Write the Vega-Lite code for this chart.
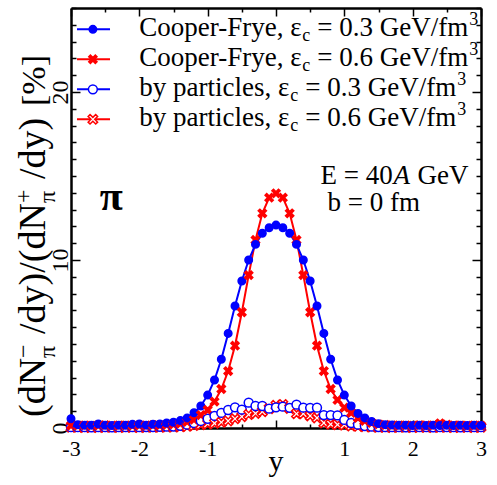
{
  "$schema": "https://vega.github.io/schema/vega-lite/v6.json",
  "width": 410,
  "height": 420,
  "autosize": {"type": "none"},
  "padding": {"left": 71, "top": 8, "right": 16, "bottom": 57},
  "background": "white",
  "config": {
    "view": {"stroke": null},
    "axis": {"grid": false, "domainColor": "black", "tickColor": "black", "labelColor": "black", "labelFont": "Liberation Serif"},
    "text": {"color": "black", "font": "Liberation Serif"}
  },
  "datasets": {
    "curves": [
      {"rap": -3.0, "cf3": 0.55, "cf6": 0.15, "bp3": 0.05, "bp6": 0.05},
      {"rap": -2.9, "cf3": 0.20, "cf6": 0.14, "bp3": 0.05, "bp6": 0.05},
      {"rap": -2.8, "cf3": 0.16, "cf6": 0.16, "bp3": 0.05, "bp6": 0.04},
      {"rap": -2.7, "cf3": 0.17, "cf6": 0.14, "bp3": 0.04, "bp6": 0.05},
      {"rap": -2.6, "cf3": 0.24, "cf6": 0.15, "bp3": 0.05, "bp6": 0.04},
      {"rap": -2.5, "cf3": 0.16, "cf6": 0.17, "bp3": 0.05, "bp6": 0.05},
      {"rap": -2.4, "cf3": 0.15, "cf6": 0.14, "bp3": 0.04, "bp6": 0.05},
      {"rap": -2.3, "cf3": 0.17, "cf6": 0.15, "bp3": 0.05, "bp6": 0.04},
      {"rap": -2.2, "cf3": 0.16, "cf6": 0.16, "bp3": 0.05, "bp6": 0.05},
      {"rap": -2.1, "cf3": 0.22, "cf6": 0.14, "bp3": 0.05, "bp6": 0.05},
      {"rap": -2.0, "cf3": 0.24, "cf6": 0.16, "bp3": 0.05, "bp6": 0.04},
      {"rap": -1.9, "cf3": 0.17, "cf6": 0.15, "bp3": 0.06, "bp6": 0.05},
      {"rap": -1.8, "cf3": 0.22, "cf6": 0.17, "bp3": 0.06, "bp6": 0.05},
      {"rap": -1.7, "cf3": 0.24, "cf6": 0.16, "bp3": 0.07, "bp6": 0.05},
      {"rap": -1.6, "cf3": 0.30, "cf6": 0.19, "bp3": 0.08, "bp6": 0.06},
      {"rap": -1.5, "cf3": 0.34, "cf6": 0.22, "bp3": 0.09, "bp6": 0.07},
      {"rap": -1.4, "cf3": 0.44, "cf6": 0.27, "bp3": 0.13, "bp6": 0.08},
      {"rap": -1.3, "cf3": 0.60, "cf6": 0.36, "bp3": 0.20, "bp6": 0.10},
      {"rap": -1.2, "cf3": 0.91, "cf6": 0.50, "bp3": 0.30, "bp6": 0.15},
      {"rap": -1.1, "cf3": 1.31, "cf6": 0.77, "bp3": 0.42, "bp6": 0.20},
      {"rap": -1.0, "cf3": 1.96, "cf6": 1.07, "bp3": 0.55, "bp6": 0.24},
      {"rap": -0.9, "cf3": 2.86, "cf6": 1.57, "bp3": 0.72, "bp6": 0.28},
      {"rap": -0.8, "cf3": 4.09, "cf6": 2.32, "bp3": 0.90, "bp6": 0.34},
      {"rap": -0.7, "cf3": 5.63, "cf6": 3.39, "bp3": 1.07, "bp6": 0.42},
      {"rap": -0.6, "cf3": 7.26, "cf6": 4.90, "bp3": 1.23, "bp6": 0.55},
      {"rap": -0.5, "cf3": 8.75, "cf6": 6.89, "bp3": 1.09, "bp6": 0.68},
      {"rap": -0.4, "cf3": 10.00, "cf6": 9.10, "bp3": 1.51, "bp6": 0.80},
      {"rap": -0.3, "cf3": 10.93, "cf6": 11.19, "bp3": 1.31, "bp6": 0.87},
      {"rap": -0.2, "cf3": 11.59, "cf6": 12.78, "bp3": 1.31, "bp6": 0.97},
      {"rap": -0.1, "cf3": 11.92, "cf6": 13.71, "bp3": 1.15, "bp6": 1.15},
      {"rap": 0.0, "cf3": 12.08, "cf6": 13.97, "bp3": 1.23, "bp6": 1.35},
      {"rap": 0.1, "cf3": 11.92, "cf6": 13.71, "bp3": 1.27, "bp6": 1.40},
      {"rap": 0.2, "cf3": 11.59, "cf6": 12.78, "bp3": 1.20, "bp6": 1.17},
      {"rap": 0.3, "cf3": 10.93, "cf6": 11.19, "bp3": 1.39, "bp6": 0.85},
      {"rap": 0.4, "cf3": 10.00, "cf6": 9.10, "bp3": 1.21, "bp6": 0.85},
      {"rap": 0.5, "cf3": 8.75, "cf6": 6.89, "bp3": 1.20, "bp6": 0.72},
      {"rap": 0.6, "cf3": 7.26, "cf6": 4.90, "bp3": 1.21, "bp6": 0.60},
      {"rap": 0.7, "cf3": 5.63, "cf6": 3.39, "bp3": 0.77, "bp6": 0.30},
      {"rap": 0.8, "cf3": 4.09, "cf6": 2.32, "bp3": 0.77, "bp6": 0.22},
      {"rap": 0.9, "cf3": 2.86, "cf6": 1.67, "bp3": 0.75, "bp6": 0.20},
      {"rap": 1.0, "cf3": 1.96, "cf6": 1.21, "bp3": 0.48, "bp6": 0.18},
      {"rap": 1.1, "cf3": 1.31, "cf6": 0.90, "bp3": 0.30, "bp6": 0.12},
      {"rap": 1.2, "cf3": 0.87, "cf6": 0.60, "bp3": 0.20, "bp6": 0.10},
      {"rap": 1.3, "cf3": 0.60, "cf6": 0.42, "bp3": 0.12, "bp6": 0.08},
      {"rap": 1.4, "cf3": 0.38, "cf6": 0.30, "bp3": 0.08, "bp6": 0.06},
      {"rap": 1.5, "cf3": 0.26, "cf6": 0.22, "bp3": 0.06, "bp6": 0.05},
      {"rap": 1.6, "cf3": 0.20, "cf6": 0.18, "bp3": 0.05, "bp6": 0.05},
      {"rap": 1.7, "cf3": 0.18, "cf6": 0.16, "bp3": 0.05, "bp6": 0.04},
      {"rap": 1.8, "cf3": 0.16, "cf6": 0.15, "bp3": 0.05, "bp6": 0.05},
      {"rap": 1.9, "cf3": 0.17, "cf6": 0.16, "bp3": 0.04, "bp6": 0.05},
      {"rap": 2.0, "cf3": 0.15, "cf6": 0.14, "bp3": 0.05, "bp6": 0.04},
      {"rap": 2.1, "cf3": 0.16, "cf6": 0.17, "bp3": 0.05, "bp6": 0.05},
      {"rap": 2.2, "cf3": 0.15, "cf6": 0.15, "bp3": 0.05, "bp6": 0.05},
      {"rap": 2.3, "cf3": 0.17, "cf6": 0.16, "bp3": 0.04, "bp6": 0.04},
      {"rap": 2.4, "cf3": 0.15, "cf6": 0.28, "bp3": 0.05, "bp6": 0.05},
      {"rap": 2.5, "cf3": 0.16, "cf6": 0.20, "bp3": 0.05, "bp6": 0.05},
      {"rap": 2.6, "cf3": 0.15, "cf6": 0.15, "bp3": 0.05, "bp6": 0.04},
      {"rap": 2.7, "cf3": 0.16, "cf6": 0.16, "bp3": 0.04, "bp6": 0.05},
      {"rap": 2.8, "cf3": 0.15, "cf6": 0.14, "bp3": 0.05, "bp6": 0.05},
      {"rap": 2.9, "cf3": 0.16, "cf6": 0.15, "bp3": 0.05, "bp6": 0.04},
      {"rap": 3.0, "cf3": 0.15, "cf6": 0.14, "bp3": 0.05, "bp6": 0.05}
    ],
    "legend": [
      {"key": "cf3", "name": "Cooper-Frye, ε", "sub": "c", "rest": "= 0.3 GeV/fm", "sup": "3"},
      {"key": "cf6", "name": "Cooper-Frye, ε", "sub": "c", "rest": "= 0.6 GeV/fm", "sup": "3"},
      {"key": "bp3", "name": "by particles, ε", "sub": "c", "rest": "= 0.3 GeV/fm", "sup": "3"},
      {"key": "bp6", "name": "by particles, ε", "sub": "c", "rest": "= 0.6 GeV/fm", "sup": "3"}
    ],
    "notes": [
      {"id": "E", "text": "E = 40"},
      {"id": "A", "text": "A"},
      {"id": "GeV", "text": "GeV"},
      {"id": "b", "text": "b = 0 fm"},
      {"id": "pi", "text": "π"},
      {"id": "xt", "text": "y"},
      {"id": "t1", "text": "(dN"},
      {"id": "t2", "text": "−"},
      {"id": "t3", "text": "π"},
      {"id": "t4", "text": "/dy)/(dN"},
      {"id": "t5", "text": "+"},
      {"id": "t6", "text": "π"},
      {"id": "t7", "text": "/dy)"},
      {"id": "t8", "text": "[%]"}
    ]
  },
  "resolve": {"axis": {"x": "independent", "y": "independent"}},
  "layer": [
    {
      "data": {"name": "curves"},
      "transform": [{"fold": ["bp6", "bp3", "cf6", "cf3"], "as": ["key", "val"]}],
      "mark": {"type": "line", "strokeWidth": 2},
      "encoding": {
        "x": {"field": "rap", "type": "quantitative", "scale": {"domain": [-3, 3], "nice": false, "zero": false},
          "axis": {"orient": "bottom", "title": null, "values": [-3, -2.5, -2, -1.5, -1, -0.5, 0, 0.5, 1, 1.5, 2, 2.5, 3],
            "domainWidth": 2.5, "tickWidth": 1.5,
            "tickSize": {"condition": {"test": "datum.value % 1 === 0", "value": -8}, "value": -4},
            "labelExpr": "datum.value % 1 === 0 && datum.value !== 0 ? '' + datum.value : ''",
            "labelFont": "Liberation Serif", "labelFontSize": 22, "labelPadding": 18, "labelFlush": false, "labelOverlap": false, "labelBound": false}},
        "y": {"field": "val", "type": "quantitative", "scale": {"domain": [0, 25], "nice": false, "zero": false},
          "axis": {"orient": "left", "title": null, "values": [0, 1, 2, 3, 4, 5, 6, 7, 8, 9, 10, 11, 12, 13, 14, 15, 16, 17, 18, 19, 20, 21, 22, 23, 24, 25],
            "domainWidth": 2.5, "tickWidth": 1.5,
            "tickSize": {"condition": {"test": "datum.value % 10 === 0", "value": -9}, "value": -5},
            "labelExpr": "datum.value % 10 === 0 ? '' + datum.value : ''",
            "labelAngle": 270, "labelAlign": "center", "labelBaseline": "alphabetic",
            "labelFont": "Liberation Serif", "labelFontSize": 24, "labelPadding": 13, "labelFlush": false, "labelOverlap": false, "labelBound": false}},
        "color": {"field": "key", "type": "nominal", "scale": {"domain": ["cf3", "cf6", "bp3", "bp6"], "range": ["#0000ff", "#ff0000", "#0000ff", "#ff0000"]}, "legend": null}
      }
    },
    {
      "data": {"name": "curves"},
      "transform": [{"fold": ["bp6", "bp3", "cf6", "cf3"], "as": ["key", "val"]}],
      "mark": {"type": "point", "opacity": 1, "strokeWidth": 1.5},
      "encoding": {
        "x": {"field": "rap", "type": "quantitative",
          "axis": {"orient": "top", "title": null, "labels": false, "values": [-3, -2.5, -2, -1.5, -1, -0.5, 0, 0.5, 1, 1.5, 2, 2.5, 3],
            "domainWidth": 2.5, "tickWidth": 1.5,
            "tickSize": {"condition": {"test": "datum.value % 1 === 0", "value": -8}, "value": -4}}},
        "y": {"field": "val", "type": "quantitative",
          "axis": {"orient": "right", "title": null, "labels": false, "values": [0, 1, 2, 3, 4, 5, 6, 7, 8, 9, 10, 11, 12, 13, 14, 15, 16, 17, 18, 19, 20, 21, 22, 23, 24, 25],
            "domainWidth": 2.5, "tickWidth": 1.5,
            "tickSize": {"condition": {"test": "datum.value % 10 === 0", "value": -9}, "value": -5}}},
        "shape": {"field": "key", "type": "nominal", "scale": {"domain": ["cf3", "cf6", "bp3", "bp6"], "range": ["circle", "M-1,-0.6L-0.6,-1L0,-0.4L0.6,-1L1,-0.6L0.4,0L1,0.6L0.6,1L0,0.4L-0.6,1L-1,0.6L-0.4,0Z", "circle", "M-1,-0.6L-0.6,-1L0,-0.4L0.6,-1L1,-0.6L0.4,0L1,0.6L0.6,1L0,0.4L-0.6,1L-1,0.6L-0.4,0Z"]}, "legend": null},
        "fill": {"field": "key", "type": "nominal", "scale": {"domain": ["cf3", "cf6", "bp3", "bp6"], "range": ["#0000ff", "#ff0000", "#ffffff", "#ffffff"]}, "legend": null},
        "stroke": {"field": "key", "type": "nominal", "scale": {"domain": ["cf3", "cf6", "bp3", "bp6"], "range": ["#0000ff", "#ff0000", "#0000ff", "#ff0000"]}, "legend": null},
        "size": {"field": "key", "type": "ordinal", "scale": {"domain": ["cf3", "cf6", "bp3", "bp6"], "range": [56, 90, 30, 64]}, "legend": null}
      }
    },
    {
      "data": {"name": "legend"},
      "transform": [{"filter": "datum.key === 'cf3'"}],
      "encoding": {"y": {"datum": 23.73, "type": "quantitative", "axis": null}},
      "layer": [
        {"mark": {"type": "rule", "stroke": "#0000ff", "strokeWidth": 2}, "encoding": {"x": {"datum": -2.912, "type": "quantitative", "axis": null}, "x2": {"datum": -2.429}}},
        {"mark": {"type": "point", "opacity": 1, "strokeWidth": 1.5}, "encoding": {"x": {"datum": -2.68, "type": "quantitative", "axis": null},
          "shape": {"field": "key", "type": "nominal", "legend": null}, "fill": {"field": "key", "type": "nominal", "legend": null},
          "stroke": {"field": "key", "type": "nominal", "legend": null}, "size": {"field": "key", "type": "ordinal", "legend": null}}},
        {"mark": {"type": "text", "align": "left", "baseline": "alphabetic", "fontSize": 27, "dy": 7}, "encoding": {"x": {"datum": -2.0, "type": "quantitative", "axis": null}, "text": {"field": "name"}}},
        {"mark": {"type": "text", "align": "left", "baseline": "alphabetic", "fontSize": 18, "dx": 163, "dy": 12}, "encoding": {"x": {"datum": -2.0, "type": "quantitative", "axis": null}, "text": {"field": "sub"}}},
        {"mark": {"type": "text", "align": "left", "baseline": "alphabetic", "fontSize": 27, "dx": 178, "dy": 7}, "encoding": {"x": {"datum": -2.0, "type": "quantitative", "axis": null}, "text": {"field": "rest"}}},
        {"mark": {"type": "text", "align": "left", "baseline": "alphabetic", "fontSize": 18, "dx": 330, "dy": -4}, "encoding": {"x": {"datum": -2.0, "type": "quantitative", "axis": null}, "text": {"field": "sup"}}}
      ]
    },
    {
      "data": {"name": "legend"},
      "transform": [{"filter": "datum.key === 'cf6'"}],
      "encoding": {"y": {"datum": 21.95, "type": "quantitative", "axis": null}},
      "layer": [
        {"mark": {"type": "rule", "stroke": "#ff0000", "strokeWidth": 2}, "encoding": {"x": {"datum": -2.912, "type": "quantitative", "axis": null}, "x2": {"datum": -2.429}}},
        {"mark": {"type": "point", "opacity": 1, "strokeWidth": 1.5}, "encoding": {"x": {"datum": -2.68, "type": "quantitative", "axis": null},
          "shape": {"field": "key", "type": "nominal", "legend": null}, "fill": {"field": "key", "type": "nominal", "legend": null},
          "stroke": {"field": "key", "type": "nominal", "legend": null}, "size": {"field": "key", "type": "ordinal", "legend": null}}},
        {"mark": {"type": "text", "align": "left", "baseline": "alphabetic", "fontSize": 27, "dy": 7}, "encoding": {"x": {"datum": -2.0, "type": "quantitative", "axis": null}, "text": {"field": "name"}}},
        {"mark": {"type": "text", "align": "left", "baseline": "alphabetic", "fontSize": 18, "dx": 163, "dy": 12}, "encoding": {"x": {"datum": -2.0, "type": "quantitative", "axis": null}, "text": {"field": "sub"}}},
        {"mark": {"type": "text", "align": "left", "baseline": "alphabetic", "fontSize": 27, "dx": 178, "dy": 7}, "encoding": {"x": {"datum": -2.0, "type": "quantitative", "axis": null}, "text": {"field": "rest"}}},
        {"mark": {"type": "text", "align": "left", "baseline": "alphabetic", "fontSize": 18, "dx": 330, "dy": -4}, "encoding": {"x": {"datum": -2.0, "type": "quantitative", "axis": null}, "text": {"field": "sup"}}}
      ]
    },
    {
      "data": {"name": "legend"},
      "transform": [{"filter": "datum.key === 'bp3'"}],
      "encoding": {"y": {"datum": 20.16, "type": "quantitative", "axis": null}},
      "layer": [
        {"mark": {"type": "rule", "stroke": "#0000ff", "strokeWidth": 2}, "encoding": {"x": {"datum": -2.912, "type": "quantitative", "axis": null}, "x2": {"datum": -2.429}}},
        {"mark": {"type": "point", "opacity": 1, "strokeWidth": 1.5}, "encoding": {"x": {"datum": -2.68, "type": "quantitative", "axis": null},
          "shape": {"field": "key", "type": "nominal", "legend": null}, "fill": {"field": "key", "type": "nominal", "legend": null},
          "stroke": {"field": "key", "type": "nominal", "legend": null}, "size": {"field": "key", "type": "ordinal", "legend": null}}},
        {"mark": {"type": "text", "align": "left", "baseline": "alphabetic", "fontSize": 27, "dy": 7}, "encoding": {"x": {"datum": -2.0, "type": "quantitative", "axis": null}, "text": {"field": "name"}}},
        {"mark": {"type": "text", "align": "left", "baseline": "alphabetic", "fontSize": 18, "dx": 151, "dy": 12}, "encoding": {"x": {"datum": -2.0, "type": "quantitative", "axis": null}, "text": {"field": "sub"}}},
        {"mark": {"type": "text", "align": "left", "baseline": "alphabetic", "fontSize": 27, "dx": 166, "dy": 7}, "encoding": {"x": {"datum": -2.0, "type": "quantitative", "axis": null}, "text": {"field": "rest"}}},
        {"mark": {"type": "text", "align": "left", "baseline": "alphabetic", "fontSize": 18, "dx": 318, "dy": -4}, "encoding": {"x": {"datum": -2.0, "type": "quantitative", "axis": null}, "text": {"field": "sup"}}}
      ]
    },
    {
      "data": {"name": "legend"},
      "transform": [{"filter": "datum.key === 'bp6'"}],
      "encoding": {"y": {"datum": 18.375, "type": "quantitative", "axis": null}},
      "layer": [
        {"mark": {"type": "rule", "stroke": "#ff0000", "strokeWidth": 2}, "encoding": {"x": {"datum": -2.912, "type": "quantitative", "axis": null}, "x2": {"datum": -2.429}}},
        {"mark": {"type": "point", "opacity": 1, "strokeWidth": 1.5}, "encoding": {"x": {"datum": -2.68, "type": "quantitative", "axis": null},
          "shape": {"field": "key", "type": "nominal", "legend": null}, "fill": {"field": "key", "type": "nominal", "legend": null},
          "stroke": {"field": "key", "type": "nominal", "legend": null}, "size": {"field": "key", "type": "ordinal", "legend": null}}},
        {"mark": {"type": "text", "align": "left", "baseline": "alphabetic", "fontSize": 27, "dy": 7}, "encoding": {"x": {"datum": -2.0, "type": "quantitative", "axis": null}, "text": {"field": "name"}}},
        {"mark": {"type": "text", "align": "left", "baseline": "alphabetic", "fontSize": 18, "dx": 151, "dy": 12}, "encoding": {"x": {"datum": -2.0, "type": "quantitative", "axis": null}, "text": {"field": "sub"}}},
        {"mark": {"type": "text", "align": "left", "baseline": "alphabetic", "fontSize": 27, "dx": 166, "dy": 7}, "encoding": {"x": {"datum": -2.0, "type": "quantitative", "axis": null}, "text": {"field": "rest"}}},
        {"mark": {"type": "text", "align": "left", "baseline": "alphabetic", "fontSize": 18, "dx": 318, "dy": -4}, "encoding": {"x": {"datum": -2.0, "type": "quantitative", "axis": null}, "text": {"field": "sup"}}}
      ]
    },
    {
      "data": {"name": "notes"},
      "layer": [
        {"transform": [{"filter": "datum.id === 'E'"}], "mark": {"type": "text", "align": "left", "baseline": "alphabetic", "fontSize": 27},
          "encoding": {"x": {"datum": 0.65, "type": "quantitative", "axis": null}, "y": {"datum": 14.5, "type": "quantitative", "axis": null}, "text": {"field": "text"}}},
        {"transform": [{"filter": "datum.id === 'A'"}], "mark": {"type": "text", "align": "left", "baseline": "alphabetic", "fontSize": 27, "fontStyle": "italic", "dx": 73},
          "encoding": {"x": {"datum": 0.65, "type": "quantitative", "axis": null}, "y": {"datum": 14.5, "type": "quantitative", "axis": null}, "text": {"field": "text"}}},
        {"transform": [{"filter": "datum.id === 'GeV'"}], "mark": {"type": "text", "align": "left", "baseline": "alphabetic", "fontSize": 27, "dx": 97},
          "encoding": {"x": {"datum": 0.65, "type": "quantitative", "axis": null}, "y": {"datum": 14.5, "type": "quantitative", "axis": null}, "text": {"field": "text"}}},
        {"transform": [{"filter": "datum.id === 'b'"}], "mark": {"type": "text", "align": "left", "baseline": "alphabetic", "fontSize": 27, "dx": 7},
          "encoding": {"x": {"datum": 0.65, "type": "quantitative", "axis": null}, "y": {"datum": 12.9, "type": "quantitative", "axis": null}, "text": {"field": "text"}}},
        {"transform": [{"filter": "datum.id === 'pi'"}], "mark": {"type": "text", "align": "left", "baseline": "alphabetic", "fontSize": 42, "fontWeight": "bold"},
          "encoding": {"x": {"datum": -2.58, "type": "quantitative", "axis": null}, "y": {"datum": 13.0, "type": "quantitative", "axis": null}, "text": {"field": "text"}}},
        {"transform": [{"filter": "datum.id === 'xt'"}], "mark": {"type": "text", "align": "center", "baseline": "alphabetic", "fontSize": 30, "dy": 43},
          "encoding": {"x": {"datum": 0, "type": "quantitative", "axis": null}, "y": {"datum": 0, "type": "quantitative", "axis": null}, "text": {"field": "text"}}},
        {"transform": [{"filter": "datum.id === 't1'"}], "mark": {"type": "text", "align": "left", "baseline": "alphabetic", "angle": 270, "fontSize": 38, "dx": 11, "dy": -26},
          "encoding": {"x": {"datum": -3, "type": "quantitative", "axis": null}, "y": {"datum": 0, "type": "quantitative", "axis": null}, "text": {"field": "text"}}},
        {"transform": [{"filter": "datum.id === 't2'"}], "mark": {"type": "text", "align": "left", "baseline": "alphabetic", "angle": 270, "fontSize": 24, "dx": 70, "dy": -40},
          "encoding": {"x": {"datum": -3, "type": "quantitative", "axis": null}, "y": {"datum": 0, "type": "quantitative", "axis": null}, "text": {"field": "text"}}},
        {"transform": [{"filter": "datum.id === 't3'"}], "mark": {"type": "text", "align": "left", "baseline": "alphabetic", "angle": 270, "fontSize": 24, "dx": 70, "dy": -16},
          "encoding": {"x": {"datum": -3, "type": "quantitative", "axis": null}, "y": {"datum": 0, "type": "quantitative", "axis": null}, "text": {"field": "text"}}},
        {"transform": [{"filter": "datum.id === 't4'"}], "mark": {"type": "text", "align": "left", "baseline": "alphabetic", "angle": 270, "fontSize": 38, "dx": 94, "dy": -26},
          "encoding": {"x": {"datum": -3, "type": "quantitative", "axis": null}, "y": {"datum": 0, "type": "quantitative", "axis": null}, "text": {"field": "text"}}},
        {"transform": [{"filter": "datum.id === 't5'"}], "mark": {"type": "text", "align": "left", "baseline": "alphabetic", "angle": 270, "fontSize": 24, "dx": 225, "dy": -40},
          "encoding": {"x": {"datum": -3, "type": "quantitative", "axis": null}, "y": {"datum": 0, "type": "quantitative", "axis": null}, "text": {"field": "text"}}},
        {"transform": [{"filter": "datum.id === 't6'"}], "mark": {"type": "text", "align": "left", "baseline": "alphabetic", "angle": 270, "fontSize": 24, "dx": 225, "dy": -16},
          "encoding": {"x": {"datum": -3, "type": "quantitative", "axis": null}, "y": {"datum": 0, "type": "quantitative", "axis": null}, "text": {"field": "text"}}},
        {"transform": [{"filter": "datum.id === 't7'"}], "mark": {"type": "text", "align": "left", "baseline": "alphabetic", "angle": 270, "fontSize": 38, "dx": 249, "dy": -26},
          "encoding": {"x": {"datum": -3, "type": "quantitative", "axis": null}, "y": {"datum": 0, "type": "quantitative", "axis": null}, "text": {"field": "text"}}},
        {"transform": [{"filter": "datum.id === 't8'"}], "mark": {"type": "text", "align": "left", "baseline": "alphabetic", "angle": 270, "fontSize": 34, "dx": 322, "dy": -26},
          "encoding": {"x": {"datum": -3, "type": "quantitative", "axis": null}, "y": {"datum": 0, "type": "quantitative", "axis": null}, "text": {"field": "text"}}}
      ]
    }
  ]
}
